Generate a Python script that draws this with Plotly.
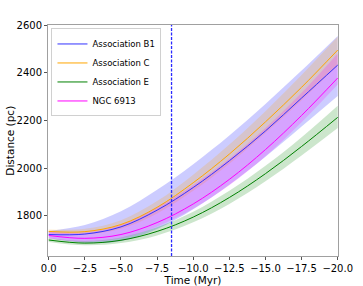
import plotly.graph_objects as go

# ---- data ----
time_myr = [0.0, -2.5, -5.0, -7.5, -10.0, -12.5, -15.0, -17.5, -20.0]

b1_dist = [1722, 1724, 1754, 1824, 1919, 2031, 2156, 2294, 2432]
b1_upper = [1737, 1762, 1820, 1910, 2017, 2137, 2269, 2409, 2554]
b1_lower = [1707, 1687, 1695, 1745, 1828, 1931, 2048, 2175, 2303]

c_dist = [1735, 1734, 1764, 1836, 1939, 2059, 2194, 2339, 2495]
c_upper = [1743, 1746, 1782, 1862, 1973, 2099, 2239, 2391, 2551]
c_lower = [1727, 1722, 1746, 1810, 1905, 2019, 2147, 2285, 2430]

e_dist = [1699, 1686, 1698, 1735, 1795, 1877, 1977, 2091, 2213]
e_upper = [1707, 1695, 1710, 1752, 1817, 1905, 2010, 2130, 2262]
e_lower = [1691, 1677, 1686, 1718, 1773, 1850, 1945, 2053, 2168]

ngc_dist = [1718, 1706, 1722, 1772, 1850, 1953, 2078, 2221, 2378]
ngc_upper = [1735, 1730, 1763, 1835, 1930, 2040, 2168, 2316, 2481]
ngc_lower = [1705, 1692, 1707, 1755, 1830, 1928, 2050, 2193, 2351]

event_time = -8.5

x_tickvals = [0, -2.5, -5, -7.5, -10, -12.5, -15, -17.5, -20]
x_ticktext = ["0.0", "\u22122.5", "\u22125.0", "\u22127.5", "\u221210.0",
              "\u221212.5", "\u221215.0", "\u221217.5", "\u221220.0"]
y_tickvals = [1800, 2000, 2200, 2400, 2600]

series = [
    ("Association B1", b1_dist, b1_lower, b1_upper, "rgb(50,50,255)", "rgba(0,0,255,0.2)"),
    ("Association C", c_dist, c_lower, c_upper, "rgb(255,165,0)", "rgba(255,165,0,0.2)"),
    ("Association E", e_dist, e_lower, e_upper, "rgb(0,128,0)", "rgba(0,128,0,0.2)"),
    ("NGC 6913", ngc_dist, ngc_lower, ngc_upper, "rgb(255,0,255)", "rgba(255,0,255,0.2)"),
]

fig = go.Figure()

# bands
for name, d, lo, up, lc, fc in series:
    fig.add_trace(go.Scatter(x=time_myr, y=lo, mode="lines", line=dict(width=0, shape="spline"),
                             showlegend=False, hoverinfo="skip"))
    fig.add_trace(go.Scatter(x=time_myr, y=up, mode="lines", line=dict(width=0, shape="spline"),
                             fill="tonexty", fillcolor=fc, showlegend=False, hoverinfo="skip"))

# lines
for name, d, lo, up, lc, fc in series:
    fig.add_trace(go.Scatter(x=time_myr, y=d, mode="lines", name=name,
                             line=dict(color=lc, width=1, shape="spline")))

fig.add_vline(x=event_time, line=dict(color="#2a2aff", width=1.3, dash="3px,1.5px"), layer="above")

tick_font = dict(family="DejaVu Sans", size=10, color="black")
title_font = dict(family="DejaVu Sans", size=10.5, color="black")
axis_common = dict(showline=True, linecolor="#a0a0a0", linewidth=1, mirror=True,
                   showgrid=False, zeroline=False, ticks="outside", ticklen=3,
                   tickcolor="#555", tickfont=tick_font, automargin=False)

fig.update_xaxes(range=[0.05, -20.02], tickvals=x_tickvals, ticktext=x_ticktext,
                 title=dict(text="Time (Myr)", font=title_font, standoff=1),
                 **axis_common)
fig.update_yaxes(range=[1632, 2600], tickvals=y_tickvals, **axis_common)

# y-axis title placed as an annotation so it sits left of the tick labels
fig.add_annotation(text="Distance (pc)", xref="paper", yref="paper", x=-0.134, y=0.5,
                   xanchor="center", yanchor="middle", textangle=-90, showarrow=False,
                   font=title_font)

fig.update_layout(
    width=363, height=286,
    margin=dict(l=48, r=25, t=25, b=30),
    paper_bgcolor="white", plot_bgcolor="white",
    legend=dict(x=0.012, y=0.985, xanchor="left", yanchor="top", traceorder="normal",
                bgcolor="rgba(255,255,255,0.85)", bordercolor="#d0d0d0", borderwidth=1,
                font=dict(family="DejaVu Sans", size=8.5, color="black"),
                tracegroupgap=0, itemwidth=30),
)

# remove the default page margin so the figure sits at the window's top-left corner
fig.write_html("out.html", config={"displayModeBar": False},
               post_script="document.body.style.margin='0';")
